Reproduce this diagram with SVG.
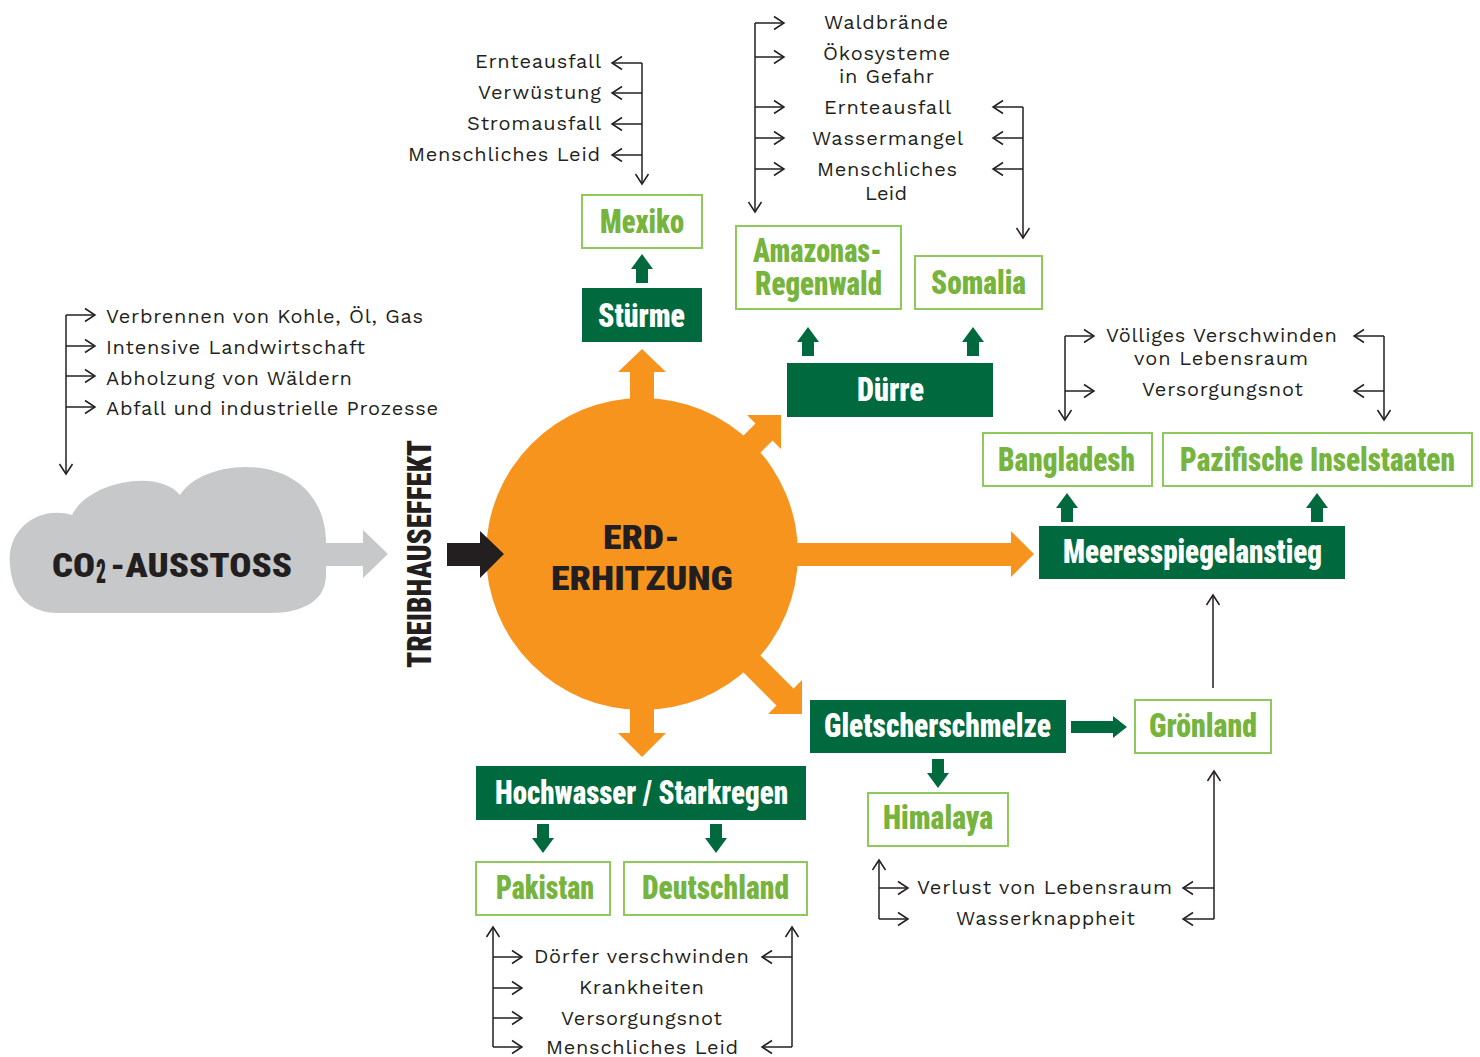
<svg xmlns="http://www.w3.org/2000/svg" width="1480" height="1057" viewBox="0 0 1480 1057">
<defs>
<style>
.t{font-family:"Work Sans","Liberation Sans","DejaVu Sans",sans-serif;font-size:20px;fill:#231f20}
.h{font-family:"Roboto Condensed","Liberation Sans Narrow","Roboto","Liberation Sans",sans-serif;font-weight:900;font-size:34px}
.hw{fill:#ffffff}
.hg{fill:#76b43e}
.hb{fill:#231f20}
.fill{fill:#006a3e}
.out{fill:#ffffff;stroke:#8fc95c;stroke-width:2}
.ln{fill:none;stroke:#231f20;stroke-width:1.5}
.ar{marker-end:url(#chev)}
.ga{fill:#006a3e}
.oa{fill:#f7941d}
</style>
<marker id="chev" markerUnits="userSpaceOnUse" markerWidth="16" markerHeight="16" viewBox="-12 -8 14 16" refX="0" refY="0" orient="auto">
<path d="M-10,-6.5 L0,0 L-10,6.5" fill="none" stroke="#231f20" stroke-width="1.5"/>
</marker>
<path id="garrow" d="M0,0 L11,15 L6,15 L6,29 L-6,29 L-6,15 L-11,15 Z"/>
</defs>

<g id="cloud">
<path d="M10,565 C6,528 40,505 72,515 C88,482 158,468 180,495 C204,455 322,448 326,540 L326,575 C326,600 304,613 270,613 L58,613 C28,613 12,594 10,565 Z" fill="#c7c8ca"/>
<polygon points="320,543 363,543 363,530 388,554 363,578 363,566 320,566" fill="#c7c8ca"/>
<text class="h hb" x="52" y="577" font-size="45" textLength="43" lengthAdjust="spacingAndGlyphs">CO</text>
<text class="h hb" x="96" y="583" font-size="24" textLength="10" lengthAdjust="spacingAndGlyphs">2</text>
<text class="h hb" x="110" y="577" font-size="45" textLength="182" lengthAdjust="spacingAndGlyphs">-AUSSTOSS</text>
</g>

<g id="treibhauseffekt">
<text class="h hb" transform="translate(431,668) rotate(-90)" x="0" y="0" font-size="32" textLength="228" lengthAdjust="spacingAndGlyphs">TREIBHAUSEFFEKT</text>
</g>

<g id="erderhitzung">
<polygon class="oa" points="630,400 630,372 618,372 642,349 666,372 654,372 654,400"/>
<polygon class="oa" points="630,708 630,733 618,733 642,757 666,733 654,733 654,708"/>
<polygon class="oa" points="795,543 1011,543 1011,531 1034,554 1011,577 1011,566 795,566"/>
<polygon class="oa" points="739.5,439.5 755.5,423.5 747,415 781,415 781,449 772.5,440.5 756.5,456.5"/>
<polygon class="oa" points="756.5,651.5 793.5,688.5 802,680 802,714 768,714 776.5,705.5 739.5,668.5"/>
<circle cx="642" cy="554" r="156" fill="#f7941d"/>
<polygon points="447,543 480,543 480,531 504,554 480,578 480,566 447,566" fill="#231f20"/>
<text class="h hb" x="603" y="549" font-size="45" textLength="77" lengthAdjust="spacingAndGlyphs">ERD-</text>
<text class="h hb" x="551" y="590" font-size="45" textLength="182" lengthAdjust="spacingAndGlyphs">ERHITZUNG</text>
</g>

<g id="stuerme">
<rect class="fill" x="582" y="288" width="120" height="54"/>
<text class="h hw" x="598" y="327" textLength="87" lengthAdjust="spacingAndGlyphs">Stürme</text>
</g>
<g id="mexiko">
<rect class="out" x="582" y="195" width="120" height="53"/>
<text class="h hg" x="600" y="233" textLength="84" lengthAdjust="spacingAndGlyphs">Mexiko</text>
</g>
<g id="duerre">
<rect class="fill" x="787" y="363" width="206" height="54"/>
<text class="h hw" x="857" y="401" textLength="67" lengthAdjust="spacingAndGlyphs">Dürre</text>
</g>
<g id="amazonas">
<rect class="out" x="736" y="226" width="165" height="83"/>
<text class="h hg" x="753" y="262" font-size="31" textLength="129" lengthAdjust="spacingAndGlyphs">Amazonas-</text>
<text class="h hg" x="755" y="295" font-size="31" textLength="127" lengthAdjust="spacingAndGlyphs">Regenwald</text>
</g>
<g id="somalia">
<rect class="out" x="915" y="256" width="127" height="53"/>
<text class="h hg" x="931" y="294" textLength="95" lengthAdjust="spacingAndGlyphs">Somalia</text>
</g>
<g id="meeresspiegelanstieg">
<rect class="fill" x="1039" y="526" width="306" height="53"/>
<text class="h hw" x="1063" y="563" textLength="259" lengthAdjust="spacingAndGlyphs">Meeresspiegelanstieg</text>
</g>
<g id="bangladesh">
<rect class="out" x="983" y="433" width="169" height="53"/>
<text class="h hg" x="998" y="471" textLength="137" lengthAdjust="spacingAndGlyphs">Bangladesh</text>
</g>
<g id="pazifische-inselstaaten">
<rect class="out" x="1163" y="433" width="309" height="53"/>
<text class="h hg" x="1180" y="471" textLength="275" lengthAdjust="spacingAndGlyphs">Pazifische Inselstaaten</text>
</g>
<g id="gletscherschmelze">
<rect class="fill" x="810" y="700" width="256" height="53"/>
<text class="h hw" x="824" y="737" textLength="227" lengthAdjust="spacingAndGlyphs">Gletscherschmelze</text>
</g>
<g id="groenland">
<rect class="out" x="1135" y="700" width="136" height="53"/>
<text class="h hg" x="1149" y="737" textLength="108" lengthAdjust="spacingAndGlyphs">Grönland</text>
</g>
<g id="himalaya">
<rect class="out" x="868" y="793" width="140" height="53"/>
<text class="h hg" x="883" y="829" textLength="110" lengthAdjust="spacingAndGlyphs">Himalaya</text>
</g>
<g id="hochwasser">
<rect class="fill" x="476" y="766" width="330" height="54"/>
<text class="h hw" x="495" y="804" textLength="293" lengthAdjust="spacingAndGlyphs">Hochwasser / Starkregen</text>
</g>
<g id="pakistan">
<rect class="out" x="476" y="862" width="134" height="53"/>
<text class="h hg" x="496" y="899" textLength="98" lengthAdjust="spacingAndGlyphs">Pakistan</text>
</g>
<g id="deutschland">
<rect class="out" x="624" y="862" width="183" height="53"/>
<text class="h hg" x="642" y="899" textLength="147" lengthAdjust="spacingAndGlyphs">Deutschland</text>
</g>

<g id="labels">
<text class="t" x="475" y="68" textLength="126">Ernteausfall</text>
<text class="t" x="478" y="99" textLength="123">Verwüstung</text>
<text class="t" x="467" y="130" textLength="134">Stromausfall</text>
<text class="t" x="408" y="161" textLength="192">Menschliches Leid</text>
<text class="t" x="824" y="29" textLength="124">Waldbrände</text>
<text class="t" x="823" y="60" textLength="127">Ökosysteme</text>
<text class="t" x="839" y="83" textLength="95">in Gefahr</text>
<text class="t" x="824" y="114" textLength="127">Ernteausfall</text>
<text class="t" x="812" y="145" textLength="151">Wassermangel</text>
<text class="t" x="817" y="176" textLength="140">Menschliches</text>
<text class="t" x="865" y="200" textLength="42">Leid</text>
<text class="t" x="1106" y="342" textLength="231">Völliges Verschwinden</text>
<text class="t" x="1134" y="365" textLength="174">von Lebensraum</text>
<text class="t" x="1142" y="396" textLength="161">Versorgungsnot</text>
<text class="t" x="917" y="894" textLength="255">Verlust von Lebensraum</text>
<text class="t" x="956" y="925" textLength="179">Wasserknappheit</text>
<text class="t" x="534" y="963" textLength="215">Dörfer verschwinden</text>
<text class="t" x="579" y="994" textLength="125">Krankheiten</text>
<text class="t" x="561" y="1025" textLength="161">Versorgungsnot</text>
<text class="t" x="546" y="1054" textLength="192">Menschliches Leid</text>
<text class="t" x="106" y="323" textLength="317">Verbrennen von Kohle, Öl, Gas</text>
<text class="t" x="106" y="354" textLength="259">Intensive Landwirtschaft</text>
<text class="t" x="106" y="385" textLength="246">Abholzung von Wäldern</text>
<text class="t" x="106" y="415" textLength="332">Abfall und industrielle Prozesse</text>
</g>

<g id="connectors">
<use href="#garrow" class="ga" transform="translate(642,254)"/>
<use href="#garrow" class="ga" transform="translate(808,327)"/>
<use href="#garrow" class="ga" transform="translate(973,327)"/>
<use href="#garrow" class="ga" transform="translate(1067,493)"/>
<use href="#garrow" class="ga" transform="translate(1317,493)"/>
<use href="#garrow" class="ga" transform="translate(938,788) rotate(180)"/>
<use href="#garrow" class="ga" transform="translate(543,853) rotate(180)"/>
<use href="#garrow" class="ga" transform="translate(716,853) rotate(180)"/>
<polygon class="ga" points="1071,721 1113,721 1113,716 1127,727 1113,738 1113,733 1071,733"/>

<path class="ln ar" d="M642,63 V184"/>
<path class="ln ar" d="M642,63 H612"/>
<path class="ln ar" d="M642,93 H612"/>
<path class="ln ar" d="M642,124 H612"/>
<path class="ln ar" d="M642,155 H612"/>

<path class="ln ar" d="M755,23 V212"/>
<path class="ln ar" d="M755,23 H784"/>
<path class="ln ar" d="M755,57 H784"/>
<path class="ln ar" d="M755,107 H784"/>
<path class="ln ar" d="M755,138 H784"/>
<path class="ln ar" d="M755,169 H784"/>

<path class="ln ar" d="M1023,107 V238"/>
<path class="ln ar" d="M1023,107 H993"/>
<path class="ln ar" d="M1023,138 H993"/>
<path class="ln ar" d="M1023,169 H993"/>

<path class="ln ar" d="M1065,336 V420"/>
<path class="ln ar" d="M1065,336 H1094"/>
<path class="ln ar" d="M1065,391 H1094"/>
<path class="ln ar" d="M1384,336 V420"/>
<path class="ln ar" d="M1384,336 H1354"/>
<path class="ln ar" d="M1384,391 H1354"/>

<path class="ln ar" d="M1213,688 V595"/>

<path class="ln ar" d="M879,919 V860"/>
<path class="ln ar" d="M879,888 H908"/>
<path class="ln ar" d="M879,919 H908"/>
<path class="ln ar" d="M1214,919 V771"/>
<path class="ln ar" d="M1214,888 H1183"/>
<path class="ln ar" d="M1214,919 H1183"/>

<path class="ln ar" d="M493,1047 V927"/>
<path class="ln ar" d="M493,957 H522"/>
<path class="ln ar" d="M493,988 H522"/>
<path class="ln ar" d="M493,1018 H522"/>
<path class="ln ar" d="M493,1047 H522"/>
<path class="ln ar" d="M792,1047 V927"/>
<path class="ln ar" d="M792,957 H762"/>
<path class="ln ar" d="M792,1047 H762"/>

<path class="ln ar" d="M66,315 V474"/>
<path class="ln ar" d="M66,315 H95"/>
<path class="ln ar" d="M66,346 H95"/>
<path class="ln ar" d="M66,376 H95"/>
<path class="ln ar" d="M66,407 H95"/>
</g>
</svg>
